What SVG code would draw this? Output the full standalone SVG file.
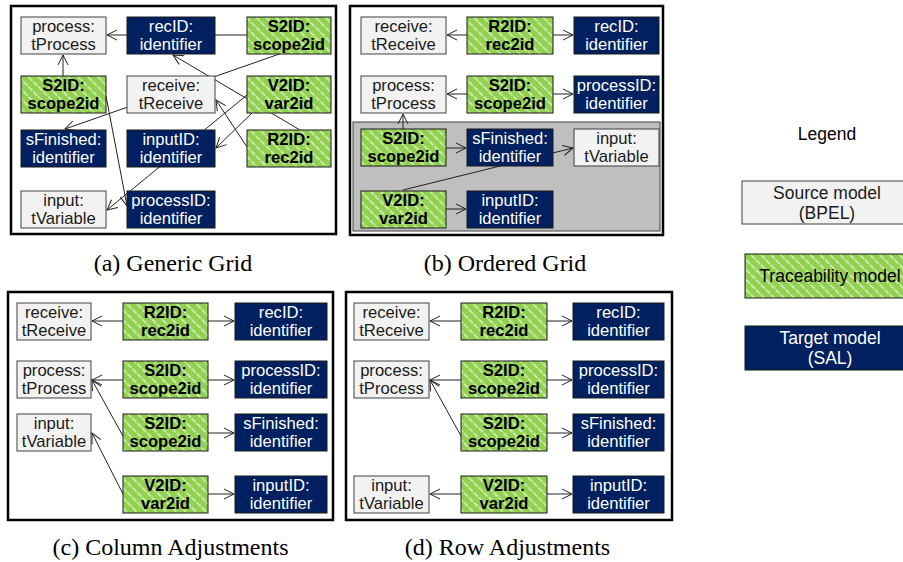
<svg xmlns="http://www.w3.org/2000/svg" width="903" height="562" viewBox="0 0 903 562">
<defs>
<pattern id="hatch" patternUnits="userSpaceOnUse" width="7" height="7" patternTransform="rotate(-45)">
<rect width="7" height="7" fill="#92d050"/>
<line x1="0.8" y1="0" x2="0.8" y2="7" stroke="#ffffff" stroke-width="1.2" stroke-dasharray="3 1.2" opacity="0.85"/>
</pattern>
<marker id="arr" markerUnits="userSpaceOnUse" viewBox="-11 -6 12 12" markerWidth="12" markerHeight="12" refX="0" refY="0" orient="auto">
<path d="M-10,-5 L0,0 L-10,5" fill="none" stroke="#222" stroke-width="1"/>
</marker>
<style>
.frame{fill:#fff;stroke:#000;stroke-width:2.5}
.gray rect{fill:#f2f2f2;stroke:#404040;stroke-width:1}
.grn rect{fill:url(#hatch);stroke:#1a1a1a;stroke-width:1}
.nav rect{fill:#002060;stroke:#1a1a1a;stroke-width:1}
text{font-family:"Liberation Sans",Arial,sans-serif;font-size:16.6px;text-anchor:middle}
.gray text{fill:#1a1a1a}
.grn text{fill:#000;font-weight:bold}
.nav text{fill:#fff}
.cap{font-family:"Liberation Serif","Times New Roman",serif;font-size:24px;fill:#000}
.lg{font-size:17.5px}
#connectors path{fill:none;stroke:#222;stroke-width:1;marker-end:url(#arr)}
</style>
</defs>

<rect class="frame" x="11" y="6" width="325" height="228"/>
<rect class="frame" x="350" y="6" width="313" height="229"/>
<rect x="353" y="122" width="307" height="109" fill="#bfbfbf" stroke="#404040" stroke-width="1"/>
<rect class="frame" x="8" y="292" width="325" height="228"/>
<rect class="frame" x="346" y="292" width="326" height="228"/>

<g id="connectors">
<path d="M247,35 L107,35"/>
<path d="M63,76 L63,55"/>
<path d="M288,51 L65,129"/>
<path d="M106,96 L127,206"/>
<path d="M300,130 L173,55"/>
<path d="M247,147 L216,100"/>
<path d="M247,95 L107,210"/>
<path d="M252,113 L216,148"/>

<path d="M467,35 L447,35"/>
<path d="M553,35 L573,35"/>
<path d="M467,94 L447,94"/>
<path d="M553,94 L573,94"/>
<path d="M403,129 L403,114"/>
<path d="M446,148 L466,148"/>
<path d="M403,190 L573,148"/>
<path d="M446,209 L466,209"/>

<path d="M123,321 L92,321"/>
<path d="M208,321 L234,321"/>
<path d="M123,380 L92,380"/>
<path d="M208,380 L234,380"/>
<path d="M123,436 L92,380"/>
<path d="M208,433 L234,433"/>
<path d="M123,494 L92,433"/>
<path d="M208,494 L234,494"/>

<path d="M461,321 L430,321"/>
<path d="M547,321 L572,321"/>
<path d="M461,380 L430,380"/>
<path d="M547,380 L572,380"/>
<path d="M461,436 L430,380"/>
<path d="M547,433 L572,433"/>
<path d="M461,494 L430,494"/>
<path d="M547,494 L572,494"/>
</g>

<!-- Panel (a) -->
<g id="a-process" class="gray"><rect x="21" y="17" width="85" height="37"/><text x="63.5" y="31.5"><tspan x="63.5">process:</tspan><tspan x="63.5" dy="18.4">tProcess</tspan></text></g>
<g id="a-recID" class="nav"><rect x="127" y="17" width="88" height="37"/><text x="171" y="31.5"><tspan x="171">recID:</tspan><tspan x="171" dy="18.4">identifier</tspan></text></g>
<g id="a-s2id-1" class="grn"><rect x="247" y="17" width="84" height="37"/><text x="289" y="31.5"><tspan x="289">S2ID:</tspan><tspan x="289" dy="18.4">scope2id</tspan></text></g>
<g id="a-s2id-2" class="grn"><rect x="21" y="76" width="85" height="37"/><text x="63.5" y="90.5"><tspan x="63.5">S2ID:</tspan><tspan x="63.5" dy="18.4">scope2id</tspan></text></g>
<g id="a-receive" class="gray"><rect x="127" y="76" width="88" height="37"/><text x="171" y="90.5"><tspan x="171">receive:</tspan><tspan x="171" dy="18.4">tReceive</tspan></text></g>
<g id="a-v2id" class="grn"><rect x="247" y="76" width="84" height="37"/><text x="289" y="90.5"><tspan x="289">V2ID:</tspan><tspan x="289" dy="18.4">var2id</tspan></text></g>
<g id="a-sFinished" class="nav"><rect x="21" y="130" width="85" height="37"/><text x="63.5" y="144.5"><tspan x="63.5">sFinished:</tspan><tspan x="63.5" dy="18.4">identifier</tspan></text></g>
<g id="a-inputID" class="nav"><rect x="127" y="130" width="88" height="37"/><text x="171" y="144.5"><tspan x="171">inputID:</tspan><tspan x="171" dy="18.4">identifier</tspan></text></g>
<g id="a-r2id" class="grn"><rect x="247" y="130" width="84" height="37"/><text x="289" y="144.5"><tspan x="289">R2ID:</tspan><tspan x="289" dy="18.4">rec2id</tspan></text></g>
<g id="a-input" class="gray"><rect x="21" y="191" width="85" height="37"/><text x="63.5" y="205.5"><tspan x="63.5">input:</tspan><tspan x="63.5" dy="18.4">tVariable</tspan></text></g>
<g id="a-processID" class="nav"><rect x="127" y="191" width="88" height="37"/><text x="171" y="205.5"><tspan x="171">processID:</tspan><tspan x="171" dy="18.4">identifier</tspan></text></g>

<!-- Panel (b) -->
<g id="b-receive" class="gray"><rect x="361" y="17" width="85" height="37"/><text x="403.5" y="31.5"><tspan x="403.5">receive:</tspan><tspan x="403.5" dy="18.4">tReceive</tspan></text></g>
<g id="b-r2id" class="grn"><rect x="467" y="17" width="86" height="37"/><text x="510" y="31.5"><tspan x="510">R2ID:</tspan><tspan x="510" dy="18.4">rec2id</tspan></text></g>
<g id="b-recID" class="nav"><rect x="574" y="17" width="85" height="37"/><text x="616.5" y="31.5"><tspan x="616.5">recID:</tspan><tspan x="616.5" dy="18.4">identifier</tspan></text></g>
<g id="b-process" class="gray"><rect x="361" y="76" width="85" height="37"/><text x="403.5" y="90.5"><tspan x="403.5">process:</tspan><tspan x="403.5" dy="18.4">tProcess</tspan></text></g>
<g id="b-s2id-1" class="grn"><rect x="467" y="76" width="86" height="37"/><text x="510" y="90.5"><tspan x="510">S2ID:</tspan><tspan x="510" dy="18.4">scope2id</tspan></text></g>
<g id="b-processID" class="nav"><rect x="574" y="76" width="85" height="37"/><text x="616.5" y="90.5"><tspan x="616.5">processID:</tspan><tspan x="616.5" dy="18.4">identifier</tspan></text></g>
<g id="b-s2id-2" class="grn"><rect x="361" y="129" width="85" height="37"/><text x="403.5" y="143.5"><tspan x="403.5">S2ID:</tspan><tspan x="403.5" dy="18.4">scope2id</tspan></text></g>
<g id="b-sFinished" class="nav"><rect x="467" y="129" width="86" height="37"/><text x="510" y="143.5"><tspan x="510">sFinished:</tspan><tspan x="510" dy="18.4">identifier</tspan></text></g>
<g id="b-input" class="gray"><rect x="574" y="129" width="85" height="37"/><text x="616.5" y="143.5"><tspan x="616.5">input:</tspan><tspan x="616.5" dy="18.4">tVariable</tspan></text></g>
<g id="b-v2id" class="grn"><rect x="361" y="191" width="85" height="37"/><text x="403.5" y="205.5"><tspan x="403.5">V2ID:</tspan><tspan x="403.5" dy="18.4">var2id</tspan></text></g>
<g id="b-inputID" class="nav"><rect x="467" y="191" width="86" height="37"/><text x="510" y="205.5"><tspan x="510">inputID:</tspan><tspan x="510" dy="18.4">identifier</tspan></text></g>

<!-- Panel (c) -->
<g id="c-receive" class="gray"><rect x="17" y="303" width="74" height="37"/><text x="54" y="317.5"><tspan x="54">receive:</tspan><tspan x="54" dy="18.4">tReceive</tspan></text></g>
<g id="c-r2id" class="grn"><rect x="123" y="303" width="85" height="37"/><text x="165.5" y="317.5"><tspan x="165.5">R2ID:</tspan><tspan x="165.5" dy="18.4">rec2id</tspan></text></g>
<g id="c-recID" class="nav"><rect x="235" y="303" width="92" height="37"/><text x="281" y="317.5"><tspan x="281">recID:</tspan><tspan x="281" dy="18.4">identifier</tspan></text></g>
<g id="c-process" class="gray"><rect x="17" y="361" width="74" height="37"/><text x="54" y="375.5"><tspan x="54">process:</tspan><tspan x="54" dy="18.4">tProcess</tspan></text></g>
<g id="c-s2id-1" class="grn"><rect x="123" y="361" width="85" height="37"/><text x="165.5" y="375.5"><tspan x="165.5">S2ID:</tspan><tspan x="165.5" dy="18.4">scope2id</tspan></text></g>
<g id="c-processID" class="nav"><rect x="235" y="361" width="92" height="37"/><text x="281" y="375.5"><tspan x="281">processID:</tspan><tspan x="281" dy="18.4">identifier</tspan></text></g>
<g id="c-input" class="gray"><rect x="17" y="414" width="74" height="37"/><text x="54" y="428.5"><tspan x="54">input:</tspan><tspan x="54" dy="18.4">tVariable</tspan></text></g>
<g id="c-s2id-2" class="grn"><rect x="123" y="414" width="85" height="37"/><text x="165.5" y="428.5"><tspan x="165.5">S2ID:</tspan><tspan x="165.5" dy="18.4">scope2id</tspan></text></g>
<g id="c-sFinished" class="nav"><rect x="235" y="414" width="92" height="37"/><text x="281" y="428.5"><tspan x="281">sFinished:</tspan><tspan x="281" dy="18.4">identifier</tspan></text></g>
<g id="c-v2id" class="grn"><rect x="123" y="476" width="85" height="37"/><text x="165.5" y="490.5"><tspan x="165.5">V2ID:</tspan><tspan x="165.5" dy="18.4">var2id</tspan></text></g>
<g id="c-inputID" class="nav"><rect x="235" y="476" width="92" height="37"/><text x="281" y="490.5"><tspan x="281">inputID:</tspan><tspan x="281" dy="18.4">identifier</tspan></text></g>

<!-- Panel (d) -->
<g id="d-receive" class="gray"><rect x="354" y="303" width="75" height="37"/><text x="391.5" y="317.5"><tspan x="391.5">receive:</tspan><tspan x="391.5" dy="18.4">tReceive</tspan></text></g>
<g id="d-r2id" class="grn"><rect x="461" y="303" width="86" height="37"/><text x="504" y="317.5"><tspan x="504">R2ID:</tspan><tspan x="504" dy="18.4">rec2id</tspan></text></g>
<g id="d-recID" class="nav"><rect x="573" y="303" width="91" height="37"/><text x="618.5" y="317.5"><tspan x="618.5">recID:</tspan><tspan x="618.5" dy="18.4">identifier</tspan></text></g>
<g id="d-process" class="gray"><rect x="354" y="361" width="75" height="37"/><text x="391.5" y="375.5"><tspan x="391.5">process:</tspan><tspan x="391.5" dy="18.4">tProcess</tspan></text></g>
<g id="d-s2id-1" class="grn"><rect x="461" y="361" width="86" height="37"/><text x="504" y="375.5"><tspan x="504">S2ID:</tspan><tspan x="504" dy="18.4">scope2id</tspan></text></g>
<g id="d-processID" class="nav"><rect x="573" y="361" width="91" height="37"/><text x="618.5" y="375.5"><tspan x="618.5">processID:</tspan><tspan x="618.5" dy="18.4">identifier</tspan></text></g>
<g id="d-s2id-2" class="grn"><rect x="461" y="414" width="86" height="37"/><text x="504" y="428.5"><tspan x="504">S2ID:</tspan><tspan x="504" dy="18.4">scope2id</tspan></text></g>
<g id="d-sFinished" class="nav"><rect x="573" y="414" width="91" height="37"/><text x="618.5" y="428.5"><tspan x="618.5">sFinished:</tspan><tspan x="618.5" dy="18.4">identifier</tspan></text></g>
<g id="d-input" class="gray"><rect x="354" y="476" width="75" height="37"/><text x="391.5" y="490.5"><tspan x="391.5">input:</tspan><tspan x="391.5" dy="18.4">tVariable</tspan></text></g>
<g id="d-v2id" class="grn"><rect x="461" y="476" width="86" height="37"/><text x="504" y="490.5"><tspan x="504">V2ID:</tspan><tspan x="504" dy="18.4">var2id</tspan></text></g>
<g id="d-inputID" class="nav"><rect x="573" y="476" width="91" height="37"/><text x="618.5" y="490.5"><tspan x="618.5">inputID:</tspan><tspan x="618.5" dy="18.4">identifier</tspan></text></g>

<!-- Captions -->
<text class="cap" x="173" y="271">(a) Generic Grid</text>
<text class="cap" x="505" y="271">(b) Ordered Grid</text>
<text class="cap" x="170.5" y="555">(c) Column Adjustments</text>
<text class="cap" x="507.5" y="555">(d) Row Adjustments</text>

<!-- Legend -->
<text class="lg" x="827" y="140" fill="#000">Legend</text>
<g id="legend-source" class="gray"><rect x="742" y="181" width="175" height="43"/><text class="lg" x="827" y="198.5"><tspan x="827">Source model</tspan><tspan x="827" dy="20">(BPEL)</tspan></text></g>
<g id="legend-trace" class="grn"><rect x="745" y="254" width="175" height="44"/><text class="lg" x="830" y="282" style="font-weight:normal">Traceability model</text></g>
<g id="legend-target" class="nav"><rect x="745" y="326" width="175" height="44"/><text class="lg" x="830" y="343.5"><tspan x="830">Target model</tspan><tspan x="830" dy="20">(SAL)</tspan></text></g>
</svg>
